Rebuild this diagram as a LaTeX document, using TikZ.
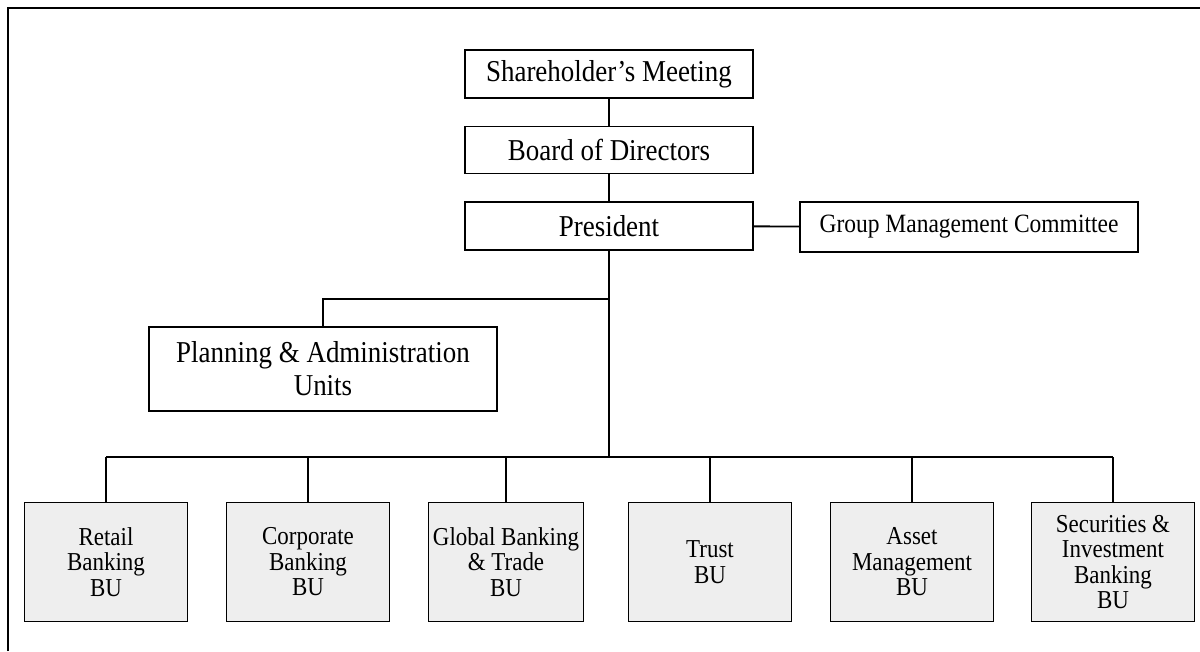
\documentclass[tikz,border=0pt]{standalone}
\usepackage{fontspec}
\setmainfont[FakeStretch=0.89]{Liberation Serif}
\usetikzlibrary{positioning}
\tikzset{box/.style={draw,line width=1.9pt,inner sep=2pt,align=center,
  font=\fontsize{30.3}{33}\selectfont}}
\tikzset{bu/.style={box,fill=gray!13,minimum width=163pt,minimum height=119pt,
  font=\fontsize{25.8}{25.5}\selectfont}}
\tikzset{link/.style={line width=1.9pt}}

\begin{document}
\begin{tikzpicture}[x=1pt,y=-1pt]
\useasboundingbox (0,0) rectangle (1200,651);
\draw[line width=1.3pt] (8,651) -- (8,8) -- (1200,8);
\node[box,minimum width=288pt,minimum height=48pt] (sm) at (609,74) {Shareholder's Meeting};
\node[box,minimum width=288pt,minimum height=47pt] (bd) at (609,150) {Board of Directors};
\node[box,minimum width=288pt,minimum height=48pt] (pr) at (609,226) {President};
\node[box,minimum width=338pt,minimum height=50pt,font=\fontsize{26.4}{29}\selectfont]
  (gmc) at (969,227) {Group Management Committee};
\node[box,minimum width=348pt,minimum height=84pt] (pa) at (323,369)
  {Planning \& Administration\\Units};
\node[bu] (b1) at (106,562) {Retail\\Banking\\BU};
\node[bu] (b2) at (308,562) {Corporate\\Banking\\BU};
\node[bu,minimum width=155pt] (b3) at (506,562) {Global Banking\\\& Trade\\BU};
\node[bu] (b4) at (710,562) {Trust\\BU};
\node[bu] (b5) at (912,562) {Asset\\Management\\BU};
\node[bu] (b6) at (1113,562) {Securities \&\\Investment\\Banking\\BU};
\coordinate (br) at (609,299);
\coordinate (bus) at (609,457);
\draw[link] (sm) -- (bd);
\draw[link] (bd) -- (pr);
\draw[link] (pr) -- (gmc);
\draw[link] (pr.south) -- (bus);
\draw[link] (br) -| (pa.north);
\draw[link] (b1.north |- bus) -- (b6.north |- bus);
\foreach \i in {1,...,6}
  \draw[link] (b\i.north) -- (b\i.north |- bus);
\end{tikzpicture}
\end{document}
